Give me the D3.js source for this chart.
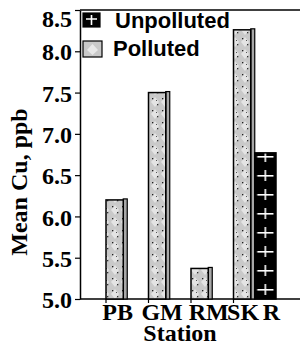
<!DOCTYPE html>
<html>
<head>
<meta charset="utf-8">
<script src="https://cdn.jsdelivr.net/npm/d3@7"></script>
<style>
  body { margin: 0; background: #fff; }
  svg { display: block; }
  .serif { font-family: "Liberation Serif", "Times New Roman", serif; font-weight: bold; fill: #000; }
  .legend-text { font-family: "Liberation Sans", Arial, sans-serif; font-weight: bold; font-size: 22px; fill: #000; }
</style>
</head>
<body>
<svg id="chart" width="302" height="345"></svg>
<script>
// data
var stations = ["PB", "GM", "RM", "SK"];
var barStation = ["PB", "GM", "RM", "SK", "SK"];
var barLabels = ["PB", "GM", "RM", "SK", "R"];
var barSeries = ["Polluted", "Polluted", "Polluted", "Polluted", "Unpolluted"];
var barValues = [6.2, 7.5, 5.37, 8.26, 6.77];
var seriesNames = ["Polluted", "Unpolluted"];
var legendOrder = ["Unpolluted", "Polluted"];
var yTicks = [5.0, 5.5, 6.0, 6.5, 7.0, 7.5, 8.0, 8.5];

// the labels in the original sit a little off the bar centres
var labelNudge = [1, 3, 7, -1, 6];

var svg = d3.select("#chart");

var plotLeft = 80, plotRight = 300, plotTop = 10, plotBottom = 299;

var x = d3.scaleBand().domain(stations).range([106, 276]).padding(0);
var xs = d3.scaleBand().domain(seriesNames).range([0, x.bandwidth()]);
var y = d3.scaleLinear().domain([5.0, 8.5]).range([plotBottom, plotTop]);

var bars = barValues.map(function(v, i) {
	return {station: barStation[i], label: barLabels[i], series: barSeries[i], value: v, nudge: labelNudge[i]};
});

// patterns
var defs = svg.append("defs");

var dots = defs.append("pattern")
	.attr("id", "dots")
	.attr("patternUnits", "userSpaceOnUse")
	.attr("width", 10)
	.attr("height", 12);
dots.append("rect").attr("width", 10).attr("height", 12).attr("fill", "#c9c9c9");
dots.append("path").attr("d", "M5,1 L9,6 L5,11 L1,6 Z").attr("fill", "#e4e4e4");
dots.append("rect").attr("x", 2).attr("y", 2).attr("width", 1.3).attr("height", 1.3).attr("fill", "#222");
dots.append("rect").attr("x", 7).attr("y", 8).attr("width", 1.3).attr("height", 1.3).attr("fill", "#333");
dots.append("rect").attr("x", 6).attr("y", 4).attr("width", 1).attr("height", 1).attr("fill", "#555");

var rBar = bars[4];
var crosses = defs.append("pattern")
	.attr("id", "crosses")
	.attr("patternUnits", "userSpaceOnUse")
	.attr("x", x(rBar.station) + xs(rBar.series))
	.attr("y", plotBottom)
	.attr("width", xs.bandwidth())
	.attr("height", 19);
crosses.append("rect").attr("width", xs.bandwidth()).attr("height", 19).attr("fill", "#000");
crosses.append("rect").attr("x", 2.5).attr("y", 9).attr("width", xs.bandwidth() - 5).attr("height", 1.6).attr("fill", "#fff");
crosses.append("rect").attr("x", xs.bandwidth() / 2 - 0.8).attr("y", 4).attr("width", 1.6).attr("height", 11).attr("fill", "#fff");

// axes frame
svg.append("line")
	.attr("x1", plotLeft).attr("x2", plotRight)
	.attr("y1", plotTop).attr("y2", plotTop)
	.attr("stroke", "#000").attr("stroke-width", 1.5);
svg.append("line")
	.attr("x1", plotLeft).attr("x2", plotRight)
	.attr("y1", plotBottom).attr("y2", plotBottom)
	.attr("stroke", "#000").attr("stroke-width", 1.5);

// small ticks under the x axis at the station boundaries
svg.selectAll(".xtick")
	.data(stations)
	.enter().append("line")
		.attr("class", "xtick")
		.attr("x1", function(d) { return x(d); })
		.attr("x2", function(d) { return x(d); })
		.attr("y1", plotBottom)
		.attr("y2", plotBottom + 4)
		.attr("stroke", "#000").attr("stroke-width", 1.2);

var yAxis = svg.append("g")
	.attr("transform", "translate(" + plotLeft + ",0)")
	.call(d3.axisLeft(y).tickValues(yTicks).tickFormat(d3.format(".1f")).tickSize(5).tickPadding(3).tickSizeOuter(0));
yAxis.select(".domain").attr("stroke-width", 1.5);
yAxis.selectAll(".tick line").attr("stroke-width", 1.2);
yAxis.selectAll("text")
	.attr("class", "serif")
	.style("font-size", "24px")
	.attr("dy", function(d) { return d === 8.5 ? "0.7em" : "0.36em"; });

// bars
var side = 4;
var g = svg.append("g");
bars.forEach(function(d) {
	var bx = x(d.station) + xs(d.series);
	var bw = xs.bandwidth();
	var by = y(d.value);
	var bh = plotBottom - by;
	if (d.series === "Polluted") {
		g.append("rect")
			.attr("x", bx + bw - side).attr("y", by - 1)
			.attr("width", side).attr("height", bh + 1)
			.attr("fill", "#a8a8a8").attr("stroke", "#000").attr("stroke-width", 1.2);
		g.append("rect")
			.attr("x", bx).attr("y", by)
			.attr("width", bw - side).attr("height", bh)
			.attr("fill", "url(#dots)").attr("stroke", "#000").attr("stroke-width", 1.5);
	} else {
		g.append("rect")
			.attr("x", bx).attr("y", by)
			.attr("width", bw).attr("height", bh)
			.attr("fill", "url(#crosses)").attr("stroke", "#000").attr("stroke-width", 1.5);
	}
});

// x labels
svg.selectAll(".xlab")
	.data(bars)
	.enter().append("text")
		.attr("class", "serif")
		.attr("x", function(d) { return x(d.station) + xs(d.series) + xs.bandwidth() / 2 + d.nudge; })
		.attr("y", 320)
		.attr("text-anchor", "middle")
		.style("font-size", "24px")
		.text(function(d) { return d.label; });

svg.append("text")
	.attr("class", "serif")
	.attr("x", 180)
	.attr("y", 341)
	.attr("text-anchor", "middle")
	.style("font-size", "24px")
	.text("Station");

svg.append("text")
	.attr("class", "serif")
	.attr("transform", "translate(27,182) rotate(-90)")
	.attr("text-anchor", "middle")
	.style("font-size", "24px")
	.text("Mean Cu, ppb");

// legend
var legend = svg.selectAll(".legend")
	.data(legendOrder)
	.enter().append("g")
		.attr("class", "legend")
		.attr("transform", function(d, i) { return "translate(83," + (13 + i * 28) + ")"; });

legend.append("rect")
	.attr("width", function(d) { return d === "Unpolluted" ? 17 : 19; })
	.attr("height", function(d) { return d === "Unpolluted" ? 14 : 16; })
	.attr("fill", function(d) { return d === "Unpolluted" ? "#000" : "#c9c9c9"; })
	.attr("stroke", "#000")
	.attr("stroke-width", 1.2);

legend.filter(function(d) { return d === "Unpolluted"; })
	.append("path")
	.attr("d", "M3,6 H14 M8.5,2 V12")
	.attr("stroke", "#fff").attr("stroke-width", 1.6);

legend.filter(function(d) { return d === "Polluted"; })
	.append("path")
	.attr("d", "M9.5,3 L15,9 L9.5,14 L4,9 Z")
	.attr("fill", "#e8e8e8");

legend.append("text")
	.attr("class", "legend-text")
	.attr("x", function(d) { return d === "Unpolluted" ? 32 : 30; })
	.attr("y", 15)
	.text(function(d) { return d; });
</script>
</body>
</html>
